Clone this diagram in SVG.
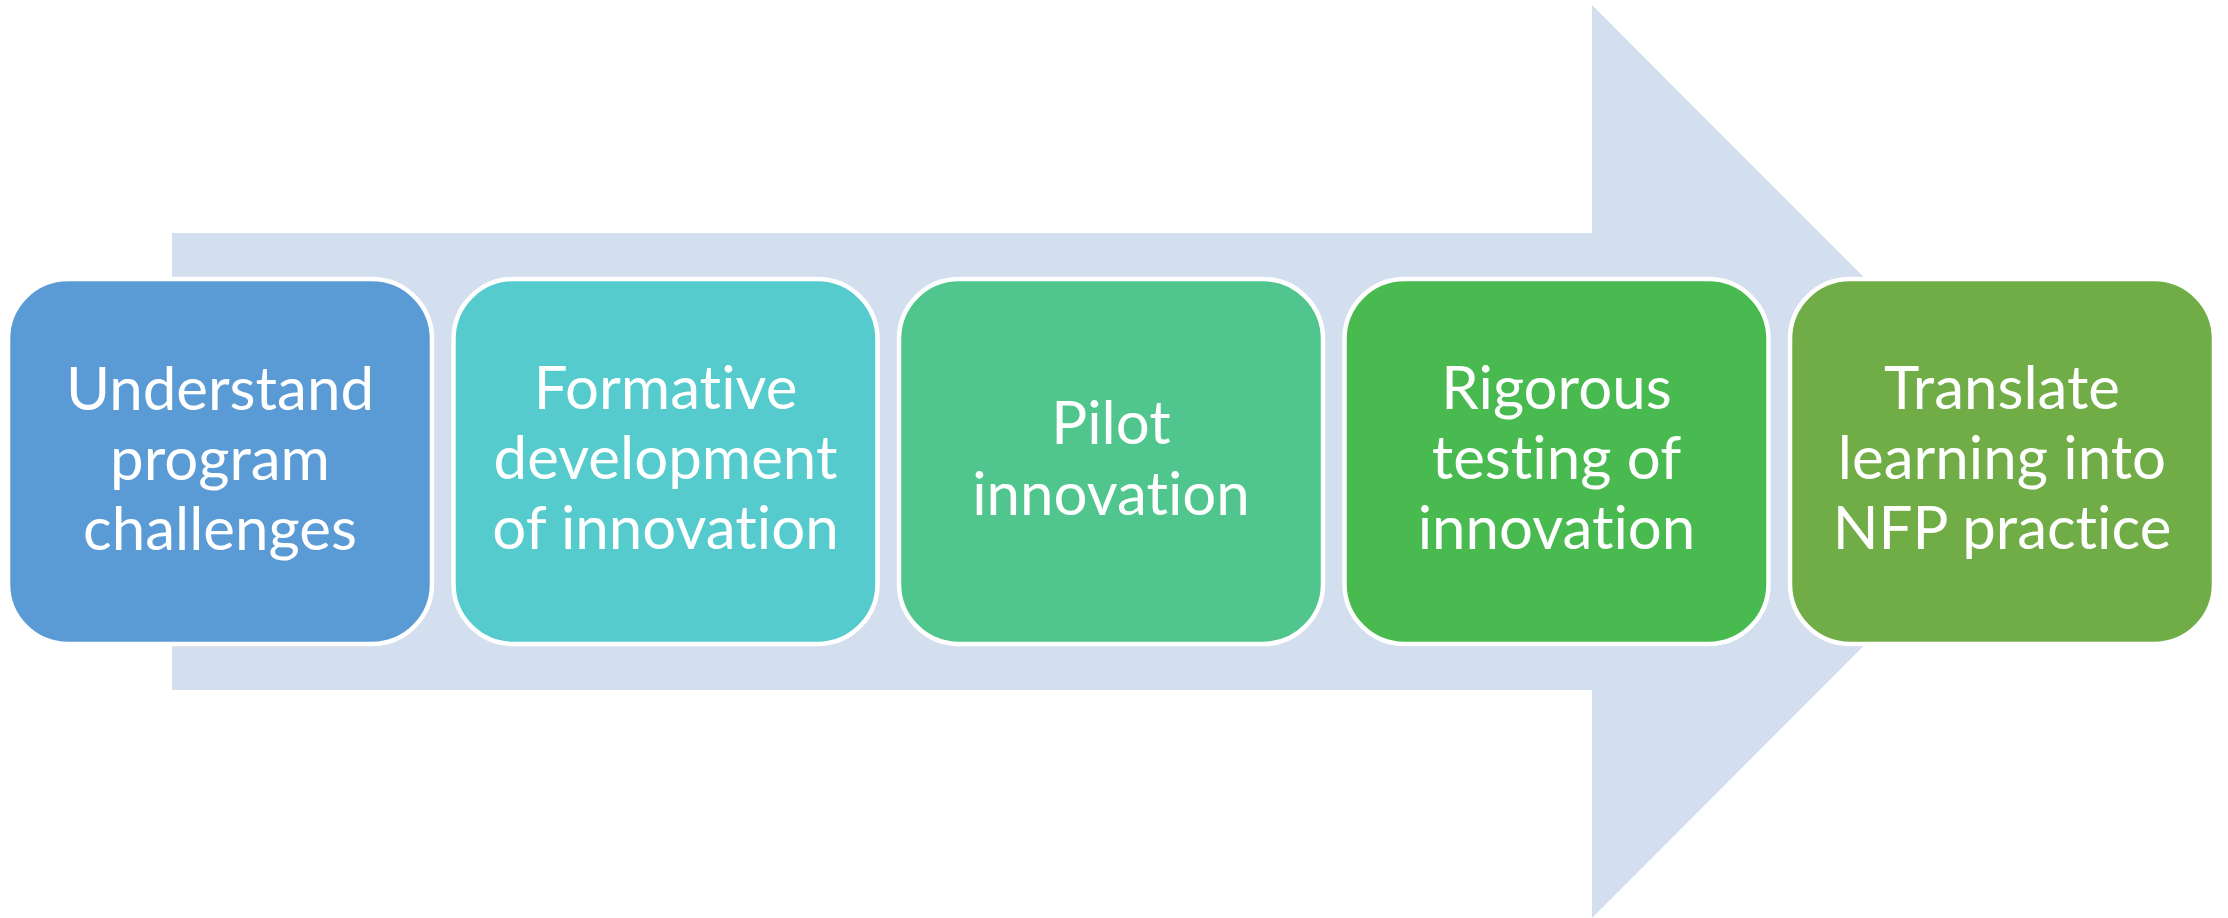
<svg xmlns="http://www.w3.org/2000/svg" width="2228" height="918" viewBox="0 0 2228 918">
<style>
.box{stroke:#FFFFFF;stroke-width:4.5}
.lbl{font-family:Lato,"Liberation Sans",sans-serif;font-size:60px;fill:#FFFFFF;text-anchor:middle;font-variant-ligatures:none;font-feature-settings:"liga" 0}
</style>
<rect width="2228" height="918" fill="#FFFFFF"/>
<g id="arrow">
<polygon points="172,233 1592,233 1592,5 2048,461.5 1592,918 1592,690 172,690" fill="#D3DEEF"/>
</g>
<g id="connectors"></g>
<g id="node1">
<rect class="box" x="8" y="279" width="424" height="365" rx="60" fill="#5B9BD5"/>
<text class="lbl" x="220" y="410">Understand</text>
<text class="lbl" x="220" y="480">program</text>
<text class="lbl" x="220" y="550">challenges</text>
</g>
<g id="node2">
<rect class="box" x="453.5" y="279" width="424" height="365" rx="60" fill="#55CBCD"/>
<text class="lbl" x="665.5" y="409">Formative</text>
<text class="lbl" x="665.5" y="479">development</text>
<text class="lbl" x="665.5" y="549">of innovation</text>
</g>
<g id="node3">
<rect class="box" x="899" y="279" width="424" height="365" rx="60" fill="#50C58D"/>
<text class="lbl" x="1111" y="444">Pilot</text>
<text class="lbl" x="1111" y="515">innovation</text>
</g>
<g id="node4">
<rect class="box" x="1344.5" y="279" width="424" height="365" rx="60" fill="#48BA50"/>
<text class="lbl" x="1556.5" y="409">Rigorous</text>
<text class="lbl" x="1556.5" y="479">testing of</text>
<text class="lbl" x="1556.5" y="549">innovation</text>
</g>
<g id="node5">
<rect class="box" x="1790" y="279" width="424" height="365" rx="60" fill="#70AD47"/>
<text class="lbl" x="2002" y="409">Translate</text>
<text class="lbl" x="2002" y="479">learning into</text>
<text class="lbl" x="2002" y="549">NFP practice</text>
</g>
</svg>
